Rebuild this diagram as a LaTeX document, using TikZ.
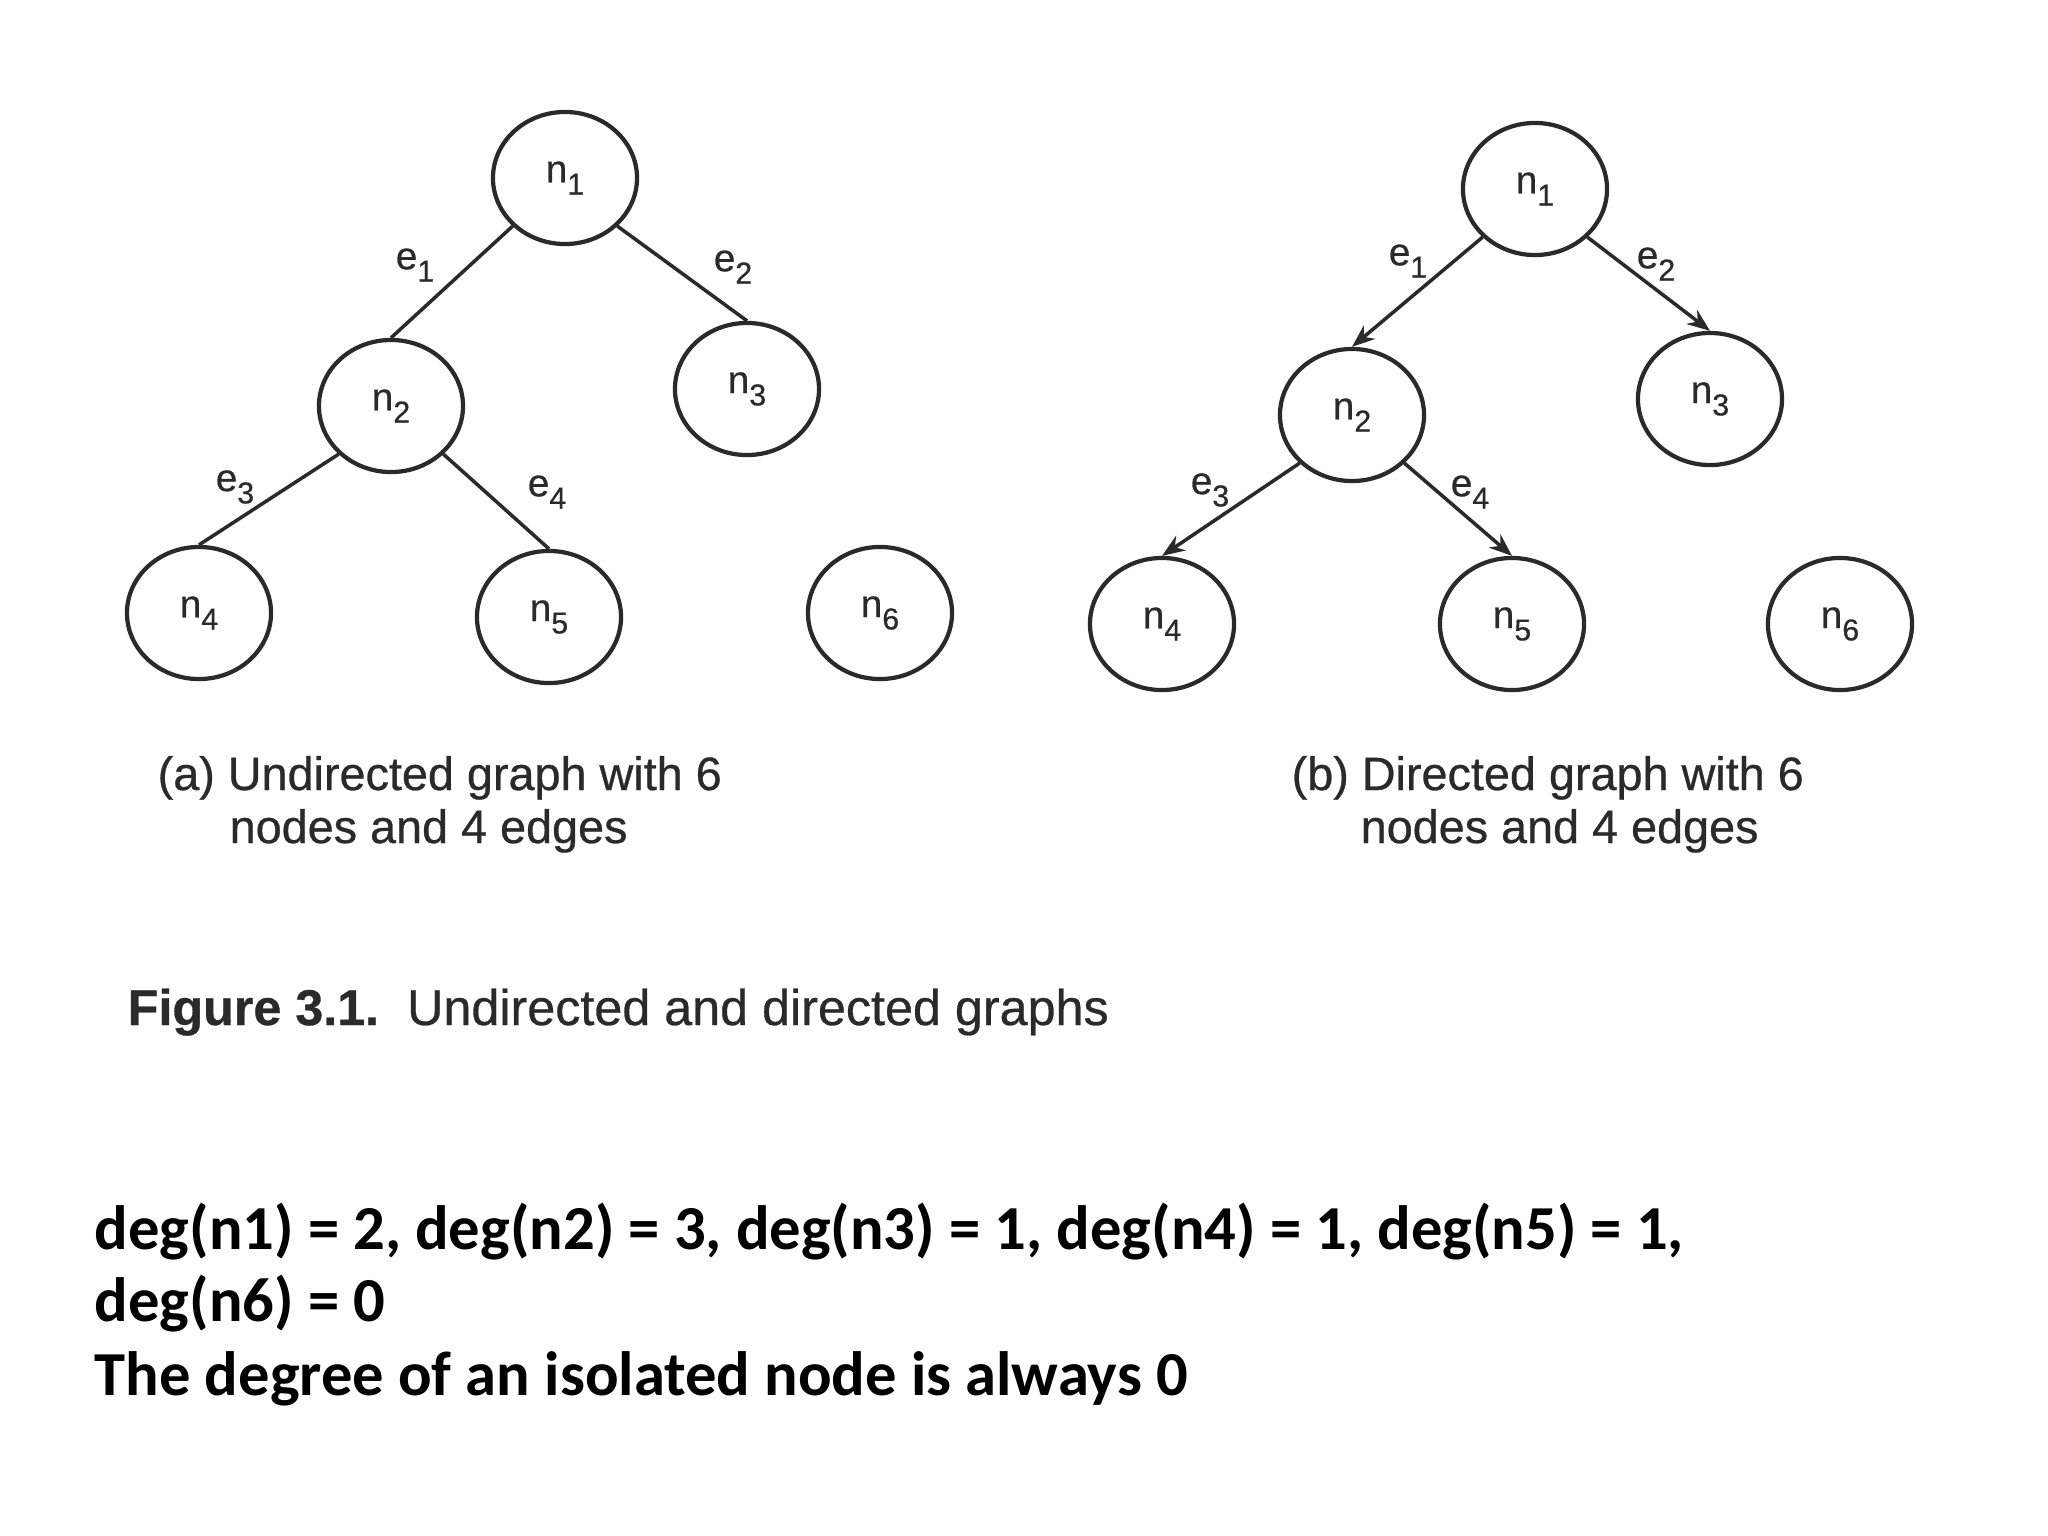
\documentclass[tikz,border=0pt]{standalone}
\usepackage{fontspec}
\setmainfont{Liberation Sans}
\newfontfamily\figfont[FakeBold=0.6]{Liberation Sans}
\newfontfamily\bodyfont{Carlito}
\usetikzlibrary{shapes.geometric,arrows.meta}
\definecolor{figgray}{HTML}{2A2A2A}
\newcommand{\nd}[2]{#1\raisebox{-3.5pt}{\fontsize{8.6}{10}\selectfont #2}}
\tikzset{
  gnode/.style={ellipse, draw=figgray, line width=1.2pt, minimum width=1.44cm, minimum height=1.32cm, inner sep=0pt, font=\figfont\fontsize{11}{13}\selectfont, text=figgray},
  gedge/.style={draw=figgray, line width=1pt},
  darrow/.style={gedge, -{Stealth[length=6.5pt,width=5pt]}},
  elabel/.style={font=\figfont\fontsize{11}{13}\selectfont, text=figgray, inner sep=0pt},
  capt/.style={font=\figfont\fontsize{13.3}{15}\selectfont, text=figgray, anchor=base west, inner sep=0pt},
  figcapt/.style={font=\figfont\fontsize{14.3}{16}\selectfont, text=figgray, anchor=base west, inner sep=0pt},
  bodytext/.style={font=\bodyfont\bfseries\fontsize{17.8}{22}\selectfont, text=black, anchor=base west, inner sep=0pt},
}
\begin{document}
\begin{tikzpicture}[x=0.01cm,y=-0.01cm]
\useasboundingbox (0,0) rectangle (2048,1536);
\fill[white] (0,0) rectangle (2048,1536);

% (a) undirected graph
\node[gnode] (a1) at (565,178) {\nd{n}{1}};
\node[gnode] (a2) at (391,406) {\nd{n}{2}};
\node[gnode] (a3) at (747,389) {\nd{n}{3}};
\node[gnode] (a4) at (199,613) {\nd{n}{4}};
\node[gnode] (a5) at (549,617) {\nd{n}{5}};
\node[gnode] (a6) at (880,613) {\nd{n}{6}};
\draw[gedge] (a1.south west) -- (a2.north);
\draw[gedge] (a1.south east) -- (a3.north);
\draw[gedge] (a2.south west) -- (a4.north);
\draw[gedge] (a2.south east) -- (a5.north);
\node[elabel] (ae1) at (415,265) {\nd{e}{1}};
\node[elabel] (ae2) at (733,267) {\nd{e}{2}};
\node[elabel] (ae3) at (235,487) {\nd{e}{3}};
\node[elabel] (ae4) at (547,492) {\nd{e}{4}};
\node[capt] (acap1) at (157,790) {(a) Undirected graph with 6};
\node[capt] (acap2) at (229,843) {nodes and 4 edges};

% (b) directed graph
\node[gnode] (b1) at (1535,189) {\nd{n}{1}};
\node[gnode] (b2) at (1352,415) {\nd{n}{2}};
\node[gnode] (b3) at (1710,399) {\nd{n}{3}};
\node[gnode] (b4) at (1162,624) {\nd{n}{4}};
\node[gnode] (b5) at (1512,624) {\nd{n}{5}};
\node[gnode] (b6) at (1840,624) {\nd{n}{6}};
\draw[darrow] (b1.south west) -- (b2.north);
\draw[darrow] (b1.south east) -- (b3.north);
\draw[darrow] (b2.south west) -- (b4.north);
\draw[darrow] (b2.south east) -- (b5.north);
\node[elabel] (be1) at (1408,261) {\nd{e}{1}};
\node[elabel] (be2) at (1656,264) {\nd{e}{2}};
\node[elabel] (be3) at (1210,490) {\nd{e}{3}};
\node[elabel] (be4) at (1470,492) {\nd{e}{4}};
\node[capt] (bcap1) at (1291,790) {(b) Directed graph with 6};
\node[capt] (bcap2) at (1360,843) {nodes and 4 edges};

% figure caption
\node[figcapt] (fig) at (127,1025) {{\bfseries Figure 3.1.}\ \ Undirected and directed graphs};

% body text
\node[bodytext] (l1) at (94,1249) {deg(n1) = 2, deg(n2) = 3, deg(n3) = 1, deg(n4) = 1, deg(n5) = 1,};
\node[bodytext] (l2) at (94,1321) {deg(n6) = 0};
\node[bodytext] (l3) at (94,1395) {The degree of an isolated node is always 0};
\end{tikzpicture}
\end{document}
